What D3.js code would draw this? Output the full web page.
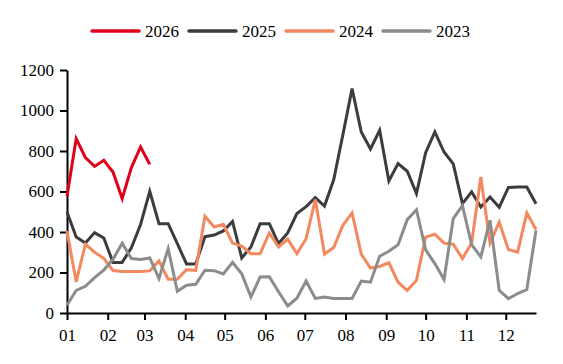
<!DOCTYPE html>
<html>
<head>
<meta charset="utf-8">
<script src="https://cdn.jsdelivr.net/npm/d3@7"></script>
<style>
  html, body { margin: 0; padding: 0; background: #fff; }
  svg { display: block; }
  svg text { font-family: "Liberation Serif", "Times New Roman", serif; }
</style>
</head>
<body>
<div id="chart"></div>
<script>
// weekly values, week 0 = Jan 1
const years = ["2026", "2025", "2024", "2023"];
const colors = ["#e1001b", "#3c3c3c", "#f2895f", "#8c8c8c"];
const s2026 = [576, 861, 767, 724, 754, 696, 565, 718, 820, 734];
const s2025 = [499, 375, 346, 397, 370, 250, 250, 322, 437, 601, 441, 441, 342, 242, 242, 377,
               385, 405, 452, 272, 326, 441, 441, 343, 395, 491, 525, 570, 528, 658, 880, 1108,
               894, 810, 902, 652, 738, 700, 590, 792, 894, 795, 736, 540, 598, 523, 573, 522,
               620, 622, 622, 540];
const s2024 = [405, 153, 340, 300, 270, 210, 205, 205, 205, 208, 257, 167, 167, 214, 210, 478,
               425, 438, 345, 330, 293, 293, 395, 326, 365, 293, 367, 560, 291, 323, 433, 494,
               290, 222, 230, 248, 152, 112, 161, 375, 389, 345, 340, 269, 345, 672, 345, 449,
               313, 301, 494, 412];
const s2023 = [38, 112, 132, 175, 212, 265, 345, 269, 264, 272, 170, 318, 107, 137, 142, 211,
               209, 193, 250, 194, 79, 178, 179, 105, 35, 73, 158, 72, 79, 72, 72, 72,
               158, 152, 280, 305, 337, 461, 510, 312, 244, 165, 466, 530, 338, 277, 458, 112,
               71, 96, 116, 408];
const yTicks = [0, 200, 400, 600, 800, 1000, 1200];
const series = [s2026, s2025, s2024, s2023];

const width = 563, height = 364;
const start = new Date(2026, 0, 1);
const end = d3.timeDay.offset(start, 51 * 7);
const dateOf = i => d3.timeDay.offset(start, i * 7);

const svg = d3.select("#chart").append("svg")
    .attr("width", width)
    .attr("height", height);

const x = d3.scaleTime().domain([start, end]).range([67, 536]);
const y = d3.scaleLinear().domain([0, 1200]).range([313, 70]);

// y axis
const yAxis = svg.append("g")
    .attr("transform", "translate(67,0)")
    .call(d3.axisLeft(y).tickValues(yTicks).tickFormat(d3.format("d"))
        .tickSize(7).tickPadding(6).tickSizeOuter(0));
yAxis.select(".domain").attr("stroke", "#000").attr("stroke-width", 2);
yAxis.selectAll(".tick line").attr("stroke", "#000").attr("stroke-width", 2);
yAxis.selectAll("text").attr("font-size", 17).attr("fill", "#000");

// x axis
const xAxis = svg.append("g")
    .attr("transform", "translate(0,313)")
    .call(d3.axisBottom(x).ticks(d3.timeMonth.every(1)).tickFormat(d3.timeFormat("%m"))
        .tickSize(7).tickPadding(9).tickSizeOuter(0));
xAxis.select(".domain").attr("stroke", "#000").attr("stroke-width", 2);
xAxis.selectAll(".tick line").attr("stroke", "#000").attr("stroke-width", 2);
xAxis.selectAll("text").attr("font-size", 17).attr("fill", "#000");

const line = d3.line()
    .x((d, i) => x(dateOf(i)))
    .y(d => y(d));

series.forEach((s, k) => {
    svg.append("path")
        .datum(s)
        .attr("fill", "none")
        .attr("stroke", colors[k])
        .attr("stroke-width", 3)
        .attr("d", line);
});

// legend
const legend = svg.append("g").attr("id", "legend");
const item = legend.selectAll("g")
    .data(years)
    .enter()
    .append("g")
    .attr("transform", (_d, i) => `translate(${92 + 97 * i},31)`);
item.append("line")
    .attr("x1", 0).attr("x2", 47)
    .attr("stroke", (_d, i) => colors[i])
    .attr("stroke-width", 3.5)
    .attr("stroke-linecap", "round");
item.append("text")
    .attr("x", 53)
    .attr("dy", "0.35em")
    .attr("font-size", 17)
    .text(d => d);
</script>
</body>
</html>
